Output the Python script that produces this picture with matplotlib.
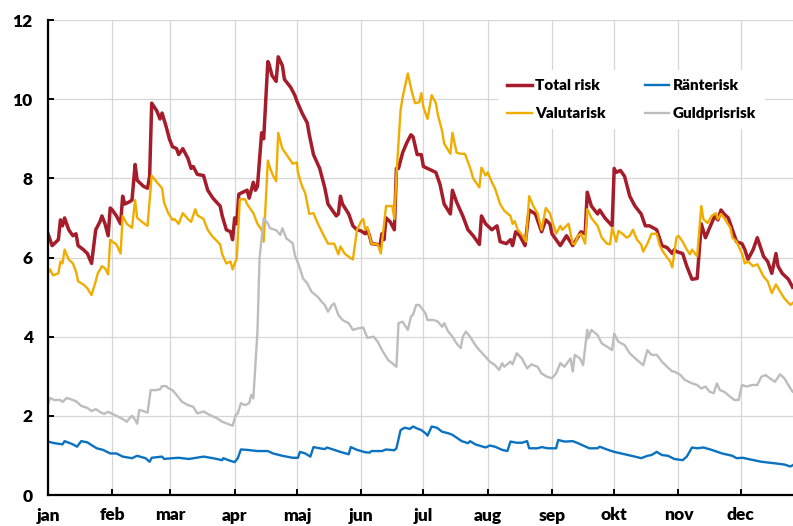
import matplotlib
matplotlib.use("Agg")
import matplotlib.pyplot as plt

# --- data (x = day of year, y = value) ---
month_starts = [0, 31, 59, 90, 120, 151, 181, 212, 243, 273, 304, 334]
month_labels = ["jan", "feb", "mar", "apr", "maj", "jun", "jul", "aug", "sep", "okt", "nov", "dec"]
y_ticks = [0, 2, 4, 6, 8, 10, 12]

total_days = [0, 2, 5, 6, 7, 8, 10, 12, 13.5, 14.5,
              17, 19, 21, 23, 25, 26, 27.5, 29, 30, 31,
              33, 35, 36, 37, 39, 40.5, 42, 43, 46, 48,
              49, 50, 52.5, 54, 55, 57, 58.5, 60, 62, 63,
              65, 67.5, 69, 70, 72, 75, 77, 79.5, 83, 84,
              86, 88, 89, 90, 91, 92, 94, 96, 97, 99,
              100, 101, 103, 104, 106, 106.5, 108, 110, 111, 113,
              114, 117, 119, 120, 122.5, 125, 126, 128, 131, 133.5,
              135, 137, 139, 140, 141, 142, 145, 147, 149, 151,
              153, 154, 155, 156, 159, 160, 161, 162, 163, 165,
              167, 168, 169, 171, 173, 175, 176, 178, 180, 181,
              183, 187, 189, 191, 194, 195, 197, 200, 202.5, 205,
              208, 209, 211, 214, 216.5, 218, 221, 223, 224, 225.5,
              227.5, 230, 232, 235, 238, 240, 242, 243, 247, 250,
              253, 257, 259, 260, 262, 265, 266, 268.5, 272, 273,
              274, 276, 278, 280.5, 283, 286, 288, 290, 293.5, 296,
              298.5, 301, 302, 303, 306, 308, 310.5, 313, 315, 317,
              319, 321.5, 323, 324.5, 326, 328, 330, 332, 334.6, 336,
              337.5, 340, 342, 345, 347, 349, 351, 352, 354, 357,
              359]
total_vals = [6.6, 6.3, 6.45, 6.95, 6.8, 7.0, 6.7, 6.55, 6.6, 6.3,
              6.2, 6.1, 5.85, 6.7, 6.9, 7.05, 6.85, 6.55, 7.25, 7.2,
              7.05, 6.85, 7.55, 7.35, 7.4, 7.45, 8.35, 7.95, 7.8, 7.75,
              8.05, 9.9, 9.7, 9.5, 9.65, 9.3, 9.0, 8.8, 8.75, 8.6,
              8.75, 8.5, 8.25, 8.3, 8.1, 8.07, 7.7, 7.5, 7.3, 7.05,
              6.7, 6.65, 6.45, 7.0, 6.85, 7.6, 7.65, 7.7, 7.5, 7.9,
              7.7, 7.8, 9.15, 9.0, 10.95, 10.9, 10.6, 10.45, 11.07, 10.85,
              10.5, 10.3, 10.1, 9.95, 9.65, 9.4, 9.1, 8.6, 8.25, 7.75,
              7.35, 7.2, 7.05, 7.1, 7.55, 7.35, 7.1, 6.8, 6.7, 6.67,
              6.6, 6.7, 6.55, 6.35, 6.33, 6.28, 6.6, 6.45, 7.0, 6.9,
              6.7, 8.25, 8.25, 8.65, 8.9, 9.1, 9.05, 8.6, 8.6, 8.3,
              8.25, 8.15, 7.85, 7.35, 7.1, 7.7, 7.4, 7.05, 6.7, 6.55,
              6.33, 7.05, 6.85, 6.7, 6.8, 6.4, 6.35, 6.45, 6.3, 6.65,
              6.55, 6.3, 7.2, 7.1, 6.65, 6.95, 6.85, 6.6, 6.3, 6.55,
              6.3, 6.65, 6.6, 7.65, 7.3, 7.1, 7.2, 7.0, 6.8, 8.25,
              8.15, 8.2, 8.05, 7.55, 7.3, 7.1, 6.8, 6.8, 6.7, 6.3,
              6.25, 6.1, 6.2, 6.15, 6.1, 5.78, 5.45, 5.47, 6.85, 6.5,
              6.75, 7.05, 6.95, 7.2, 7.1, 7.0, 6.7, 6.4, 6.35, 6.2,
              5.95, 6.2, 6.5, 6.03, 5.9, 5.6, 6.1, 5.78, 5.6, 5.45,
              5.25]

valuta_days = [0, 1, 2.4, 5, 6, 7, 8, 10, 12, 13.5,
               14.5, 17, 19, 21, 23, 24, 26, 27.5, 29, 30,
               31, 33, 35, 36, 38, 40.5, 42, 43, 46, 48,
               50, 52.5, 55, 56, 58, 60, 61, 63, 65, 67.5,
               69, 71, 72, 75, 77, 79, 83, 84, 86, 88,
               89, 91, 92.5, 95, 96, 99, 101, 103, 104, 106,
               107, 108.5, 110, 111, 113, 116, 118, 120, 120.5, 122.5,
               124, 126, 128, 130, 132.5, 135, 138, 140, 141, 143,
               146, 147, 149, 151, 152, 153, 154, 156, 159, 160.5,
               161.5, 163, 166, 167, 168, 170, 171, 173.5, 175.5, 177,
               179, 180, 181, 183, 185, 187, 188, 190, 191, 194,
               195, 197, 199, 201, 203.5, 205, 208, 209, 211, 212,
               214, 215.5, 218, 220, 223, 224, 225, 226.5, 229, 230.5,
               232, 234, 236, 238, 240, 242, 243.5, 245, 247, 248,
               251, 253, 254, 255.5, 257, 259, 260, 262, 265, 267,
               269.5, 271, 272, 274, 275, 277, 279, 280.5, 282, 284,
               286, 287, 289, 291, 293.5, 295, 296.5, 298.5, 300, 301,
               303, 304, 306, 308, 309.5, 310.5, 312, 313, 315, 316,
               318, 320, 322, 323, 324.5, 326, 329, 330, 332, 334.6,
               336, 337.5, 340, 342, 345, 347, 349, 351, 353, 355,
               358, 359]
valuta_vals = [5.6, 5.7, 5.55, 5.6, 5.9, 5.85, 6.2, 5.95, 5.85, 5.65,
               5.4, 5.32, 5.22, 5.05, 5.4, 5.6, 5.78, 5.73, 5.57, 6.45,
               6.4, 6.33, 6.1, 7.05, 6.85, 6.75, 7.45, 7.0, 6.87, 6.8,
               8.07, 7.9, 7.75, 7.38, 7.12, 6.95, 6.97, 6.85, 7.12, 6.97,
               6.9, 7.22, 7.07, 6.97, 6.7, 6.55, 6.33, 6.08, 5.85, 5.9,
               5.7, 5.98, 7.47, 7.47, 7.35, 7.12, 6.85, 6.7, 6.4, 8.45,
               8.27, 8.07, 7.93, 9.15, 8.75, 8.52, 8.37, 8.4, 8.15, 7.8,
               7.63, 7.1, 7.12, 6.87, 6.6, 6.35, 6.35, 6.08, 6.28, 6.1,
               5.98, 5.95, 6.7, 6.92, 6.97, 6.7, 6.77, 6.35, 6.33, 6.1,
               6.6, 7.3, 7.3, 6.97, 8.07, 9.72, 10.05, 10.65, 10.17, 9.9,
               9.92, 10.15, 9.8, 9.5, 10.1, 9.9, 9.6, 9.2, 8.88, 8.62,
               9.15, 8.65, 8.62, 8.62, 8.27, 8.0, 7.77, 8.27, 8.07, 8.15,
               7.9, 7.75, 7.35, 7.18, 7.05, 6.85, 6.92, 6.7, 6.55, 6.4,
               7.55, 7.3, 7.12, 6.7, 7.25, 7.12, 6.85, 6.6, 6.8, 6.7,
               6.85, 6.35, 6.33, 6.55, 6.6, 6.35, 7.22, 7.0, 6.8, 6.5,
               6.35, 6.33, 6.75, 6.4, 6.67, 6.6, 6.5, 6.55, 6.7, 6.45,
               6.33, 6.15, 6.35, 6.6, 6.6, 6.3, 6.15, 6.0, 5.9, 5.75,
               6.5, 6.55, 6.4, 6.2, 6.08, 6.2, 6.1, 6.03, 7.3, 6.97,
               6.87, 7.05, 7.12, 6.97, 7.1, 7.0, 6.75, 6.5, 6.4, 6.1,
               5.85, 5.9, 5.78, 5.83, 5.52, 5.4, 5.1, 5.32, 5.14, 4.97,
               4.8, 4.85]

guld_days = [0, 1, 3, 6, 7, 9, 12, 14, 16, 19,
             21, 23, 25, 27, 29, 31, 33, 36, 38, 39,
             40.5, 42, 43, 44, 46, 48, 49.5, 52, 54, 55,
             57, 58, 60, 62, 64.5, 67.5, 70, 72, 75, 78,
             81.5, 84, 87, 89, 90.5, 91.5, 93, 95, 97, 98,
             99, 101, 102, 104, 106, 107, 110, 112, 113, 115,
             118, 119, 121, 123, 125, 127, 130, 132, 133.5, 135,
             137, 138, 140, 142, 145, 147, 149.5, 152, 154, 157,
             159, 161.5, 164, 166, 168, 169, 171, 173.5, 175, 176,
             177.5, 179, 182, 183, 186, 188, 190, 191, 193, 195,
             197, 199, 200, 201.5, 203.5, 206, 208, 211, 213, 215.5,
             217.5, 219, 220, 223, 224, 226, 228.5, 231, 233, 236,
             238, 240.5, 243, 245, 247, 249, 252, 253, 254, 256.5,
             258, 260, 260.5, 262, 265, 267, 269.5, 272, 273, 275,
             278, 280.5, 284, 287, 289, 291, 293.5, 296, 298.5, 301,
             302, 305, 307, 310.5, 313, 315, 317, 319, 321, 322.5,
             324, 326, 329, 331, 333, 334.6, 337, 339.5, 342, 344,
             346, 348, 350.5, 353, 355, 358, 359]
guld_vals = [2.3, 2.45, 2.4, 2.4, 2.35, 2.45, 2.4, 2.35, 2.25, 2.2,
             2.12, 2.17, 2.1, 2.05, 2.1, 2.05, 2.0, 1.92, 1.85, 1.92,
             2.0, 1.9, 1.8, 2.15, 2.12, 2.08, 2.65, 2.65, 2.67, 2.75,
             2.75, 2.7, 2.65, 2.53, 2.36, 2.27, 2.23, 2.06, 2.11, 2.02,
             1.94, 1.85, 1.79, 1.75, 2.02, 2.06, 2.32, 2.27, 2.32, 2.53,
             2.44, 4.13, 5.98, 6.99, 6.86, 6.74, 6.69, 6.57, 6.74, 6.48,
             6.36, 6.06, 5.8, 5.47, 5.35, 5.14, 5.01, 4.88, 4.8, 4.63,
             4.8, 4.84, 4.55, 4.42, 4.34, 4.17, 4.21, 4.23, 3.97, 4.0,
             3.87, 3.62, 3.41, 3.33, 3.24, 4.34, 4.38, 4.17, 4.51, 4.55,
             4.8, 4.8, 4.59, 4.42, 4.42, 4.38, 4.25, 4.34, 4.13, 4.0,
             3.83, 3.71, 4.0, 4.13, 4.0, 3.79, 3.66, 3.49, 3.37, 3.28,
             3.16, 3.33, 3.24, 3.37, 3.3, 3.58, 3.45, 3.2, 3.3, 3.24,
             3.07, 2.99, 2.95, 3.07, 3.33, 3.24, 3.45, 3.12, 3.54, 3.45,
             3.28, 4.17, 3.96, 4.17, 4.04, 3.83, 3.75, 3.66, 4.08, 3.87,
             3.79, 3.58, 3.41, 3.28, 3.66, 3.54, 3.54, 3.37, 3.24, 3.12,
             3.12, 3.03, 2.91, 2.82, 2.78, 2.69, 2.74, 2.61, 2.57, 2.82,
             2.65, 2.61, 2.48, 2.4, 2.4, 2.78, 2.74, 2.78, 2.78, 2.99,
             3.03, 2.95, 2.86, 3.05, 2.95, 2.69, 2.61]

ranta_days = [0, 3, 7, 8, 12, 14, 16, 19, 21, 23.5,
              26.5, 30, 33, 36, 40.5, 43, 47, 49, 50, 55,
              56, 60, 63, 68, 75, 79.5, 84, 84.5, 87, 90,
              91.5, 93, 96, 101, 106, 108.5, 113, 118, 120.5, 121.5,
              124, 126.5, 128, 131, 133.5, 134.5, 138, 141.5, 145, 146,
              149, 153, 155, 156, 161, 163, 167, 168, 170, 172,
              174.5, 176, 178, 180, 182, 183, 185, 187.5, 190, 193,
              195, 199.5, 202.5, 203.5, 206, 211, 213, 215.5, 219, 221.5,
              223, 226, 228.5, 231, 232, 236, 238, 241, 245, 246,
              249, 253, 255.5, 261, 265, 266, 269.5, 273, 278, 283,
              286, 289, 291, 293.5, 296, 299, 302, 306, 308, 310.5,
              313, 316, 320, 325, 330, 332, 335, 337.5, 344, 350.5,
              355, 358, 359]
ranta_vals = [1.35, 1.31, 1.28, 1.36, 1.28, 1.22, 1.36, 1.33, 1.26, 1.18,
              1.14, 1.05, 1.05, 0.97, 0.93, 0.99, 0.93, 0.84, 0.94, 0.97,
              0.91, 0.93, 0.94, 0.91, 0.97, 0.93, 0.88, 0.93, 0.88, 0.83,
              0.93, 1.15, 1.14, 1.11, 1.11, 1.05, 0.99, 0.94, 0.94, 1.09,
              1.05, 0.97, 1.21, 1.18, 1.16, 1.2, 1.14, 1.08, 1.03, 1.21,
              1.14, 1.08, 1.07, 1.11, 1.11, 1.15, 1.13, 1.18, 1.64, 1.7,
              1.67, 1.73, 1.68, 1.64, 1.56, 1.5, 1.73, 1.7, 1.6, 1.56,
              1.52, 1.36, 1.31, 1.36, 1.28, 1.2, 1.25, 1.22, 1.14, 1.11,
              1.35, 1.32, 1.32, 1.36, 1.18, 1.18, 1.21, 1.18, 1.18, 1.39,
              1.35, 1.36, 1.31, 1.18, 1.18, 1.22, 1.15, 1.09, 1.03, 0.97,
              0.93, 0.99, 1.01, 1.09, 1.01, 0.99, 0.91, 0.88, 0.97, 1.2,
              1.18, 1.2, 1.14, 1.05, 0.99, 0.93, 0.94, 0.91, 0.84, 0.8,
              0.77, 0.72, 0.75]

RED = "#a51c2a"
BLUE = "#0a72c0"
ORANGE = "#f0ad00"
GRAY = "#bdbdbd"

plt.rcParams["font.family"] = ["Lato", "DejaVu Sans"]
plt.rcParams["font.weight"] = "heavy"

fig = plt.figure(figsize=(7.93, 5.26), dpi=100)
# axes run a little past the right edge, as in the cropped original
ax = fig.add_axes([48 / 793, 31 / 526, 757 / 793, 475 / 526])

l_total, = ax.plot(total_days, total_vals, color=RED, lw=2.5, label="Total risk")
l_ranta, = ax.plot(ranta_days, ranta_vals, color=BLUE, lw=1.7, label="Ränterisk")
l_valuta, = ax.plot(valuta_days, valuta_vals, color=ORANGE, lw=1.7, label="Valutarisk")
l_guld, = ax.plot(guld_days, guld_vals, color=GRAY, lw=1.7, label="Guldprisrisk")

ax.set_xlim(0, 365)
ax.set_ylim(0, 12)
ax.set_xticks(month_starts)
ax.set_xticklabels(month_labels)
ax.set_yticks(y_ticks)

ax.grid(True, color="#d6d6d6", lw=0.9)
ax.set_axisbelow(True)
for side in ("top", "right"):
    ax.spines[side].set_visible(False)
for side in ("left", "bottom"):
    ax.spines[side].set_linewidth(1.6)
    ax.spines[side].set_color("black")

ax.tick_params(axis="both", direction="in", length=4, width=1.4, labelsize=12.5)
ax.tick_params(axis="y", pad=11)
ax.tick_params(axis="x", pad=9)

leg = ax.legend(handles=[l_total, l_valuta, l_ranta, l_guld], ncol=2,
                loc="upper right", bbox_to_anchor=(0.947, 0.895), borderaxespad=0,
                fontsize=11, handlelength=1.6, handletextpad=0.2,
                columnspacing=2.6, labelspacing=1.0, borderpad=0.6,
                frameon=True, fancybox=False, framealpha=1)
leg.get_frame().set_facecolor("white")
leg.get_frame().set_edgecolor("none")

fig.savefig("out.png", dpi=100)
